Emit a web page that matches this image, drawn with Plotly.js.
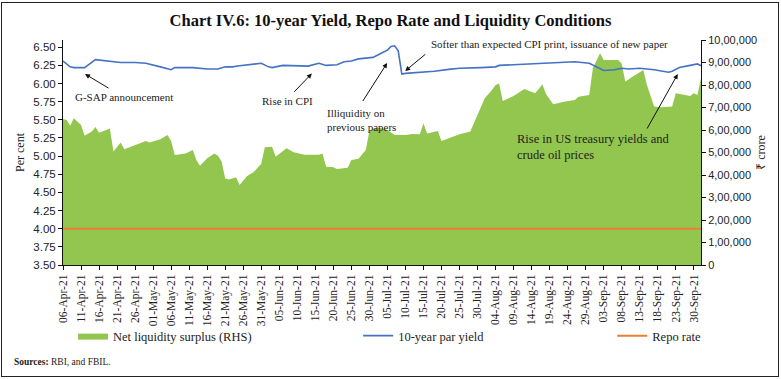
<!DOCTYPE html>
<html>
<head>
<meta charset="utf-8">
<script src="https://cdn.plot.ly/plotly-3.0.1.min.js"></script>
<style>
  html, body { margin: 0; padding: 0; background: #fff; }
  #wrap { position: absolute; left: 1px; top: 2px; width: 776px; height: 373px; border: 1.5px solid #222; }
</style>
</head>
<body>
<div id="wrap"></div>
<div id="chart" style="position:absolute;left:0;top:0;width:781px;height:379px;"></div>
<script>
// ---- Data ----
const yieldDates = ["2021-04-06","2021-04-08","2021-04-09","2021-04-12","2021-04-15","2021-04-17","2021-04-20","2021-04-22","2021-04-26","2021-04-29",
  "2021-05-03","2021-05-04","2021-05-05","2021-05-06","2021-05-07","2021-05-12","2021-05-16","2021-05-19","2021-05-21","2021-05-23","2021-05-25","2021-05-29","2021-05-31",
  "2021-06-02","2021-06-03","2021-06-06","2021-06-09","2021-06-13","2021-06-16","2021-06-18","2021-06-21","2021-06-23","2021-06-25","2021-06-27","2021-06-29",
  "2021-07-01","2021-07-03","2021-07-04","2021-07-05","2021-07-06","2021-07-07","2021-07-08","2021-07-09","2021-07-10","2021-07-14","2021-07-18","2021-07-22","2021-07-25","2021-07-31",
  "2021-08-04","2021-08-05","2021-08-09","2021-08-14","2021-08-17","2021-08-22","2021-08-26","2021-08-30",
  "2021-09-01","2021-09-03","2021-09-06","2021-09-08","2021-09-10","2021-09-13","2021-09-17","2021-09-21","2021-09-22","2021-09-24","2021-09-27","2021-09-29","2021-09-30"];
const yieldValues = [6.31,6.23,6.22,6.22,6.33,6.32,6.31,6.29,6.29,6.28,
  6.23,6.22,6.21,6.19,6.22,6.22,6.20,6.20,6.23,6.23,6.245,6.27,6.28,
  6.23,6.22,6.25,6.25,6.24,6.28,6.25,6.26,6.30,6.31,6.34,6.35,
  6.36,6.41,6.43,6.46,6.51,6.52,6.45,6.13,6.14,6.15,6.17,6.195,6.21,6.22,
  6.23,6.25,6.26,6.265,6.28,6.29,6.30,6.28,
  6.23,6.18,6.19,6.21,6.20,6.21,6.19,6.155,6.17,6.22,6.25,6.27,6.245];

const repoDates = ["2021-04-06","2021-09-30"];
const repoValues = [4.00, 4.00];

const liqDates = ["2021-04-06","2021-04-07","2021-04-08","2021-04-09","2021-04-11","2021-04-12","2021-04-14","2021-04-15","2021-04-16","2021-04-19",
  "2021-04-20","2021-04-21","2021-04-22","2021-04-23","2021-04-25","2021-04-27","2021-04-28","2021-04-29","2021-04-30",
  "2021-05-03","2021-05-05","2021-05-06","2021-05-07","2021-05-10","2021-05-12","2021-05-13","2021-05-14","2021-05-16","2021-05-18","2021-05-19",
  "2021-05-20","2021-05-21","2021-05-22","2021-05-24","2021-05-25","2021-05-27","2021-05-29","2021-05-31",
  "2021-06-01","2021-06-03","2021-06-04","2021-06-07","2021-06-09","2021-06-12","2021-06-16","2021-06-17","2021-06-18","2021-06-20","2021-06-21",
  "2021-06-24","2021-06-25","2021-06-27","2021-06-29","2021-06-30",
  "2021-07-01","2021-07-03","2021-07-05","2021-07-07","2021-07-10","2021-07-12","2021-07-14","2021-07-15","2021-07-16","2021-07-19","2021-07-20",
  "2021-07-23","2021-07-25","2021-07-28","2021-07-30",
  "2021-08-01","2021-08-03","2021-08-04","2021-08-05","2021-08-06","2021-08-09","2021-08-11","2021-08-12","2021-08-15","2021-08-17","2021-08-18",
  "2021-08-20","2021-08-23","2021-08-26","2021-08-27","2021-08-30","2021-08-31",
  "2021-09-02","2021-09-03","2021-09-07","2021-09-08","2021-09-09","2021-09-11","2021-09-14","2021-09-15","2021-09-17","2021-09-19",
  "2021-09-22","2021-09-23","2021-09-25","2021-09-27","2021-09-28","2021-09-29","2021-09-30"];
const liqValues = [649000,644000,619000,652000,622000,575000,593000,613000,588000,607000,
  504000,526000,544000,514000,526000,541000,544000,551000,544000,
  559000,578000,551000,489000,496000,511000,467000,441000,474000,496000,486000,
  460000,385000,380000,390000,356000,395000,415000,450000,
  523000,526000,481000,519000,501000,490000,490000,496000,437000,435000,427000,
  432000,467000,472000,511000,595000,
  607000,610000,600000,578000,578000,582000,581000,630000,585000,596000,551000,
  570000,581000,593000,667000,
  741000,778000,800000,807000,729000,751000,770000,782000,763000,802000,760000,
  714000,726000,733000,748000,756000,874000,
  941000,911000,911000,896000,815000,837000,867000,800000,704000,701000,
  704000,763000,756000,751000,763000,756000,830000];

const tickDates = ["2021-04-06","2021-04-11","2021-04-16","2021-04-21","2021-04-26","2021-05-01","2021-05-06","2021-05-11","2021-05-16","2021-05-21","2021-05-26","2021-05-31",
  "2021-06-05","2021-06-10","2021-06-15","2021-06-20","2021-06-25","2021-06-30","2021-07-05","2021-07-10","2021-07-15","2021-07-20","2021-07-25","2021-07-30",
  "2021-08-04","2021-08-09","2021-08-14","2021-08-19","2021-08-24","2021-08-29","2021-09-03","2021-09-08","2021-09-13","2021-09-18","2021-09-23","2021-09-28"];
const tickLabels = ["06-Apr-21","11-Apr-21","16-Apr-21","21-Apr-21","26-Apr-21","01-May-21","06-May-21","11-May-21","16-May-21","21-May-21","26-May-21","31-May-21",
  "05-Jun-21","10-Jun-21","15-Jun-21","20-Jun-21","25-Jun-21","30-Jun-21","05-Jul-21","10-Jul-21","15-Jul-21","20-Jul-21","25-Jul-21","30-Jul-21",
  "04-Aug-21","09-Aug-21","14-Aug-21","19-Aug-21","24-Aug-21","29-Aug-21","03-Sep-21","08-Sep-21","13-Sep-21","18-Sep-21","23-Sep-21","30-Sep-21"];

const leftTicks = [3.50,3.75,4.00,4.25,4.50,4.75,5.00,5.25,5.50,5.75,6.00,6.25,6.50];
const rightTickVals = [0,100000,200000,300000,400000,500000,600000,700000,800000,900000,1000000];
const rightTickText = ["0","1,00,000","2,00,000","3,00,000","4,00,000","5,00,000","6,00,000","7,00,000","8,00,000","9,00,000","10,00,000"];

// ---- Styling ----
const SERIF = "Liberation Serif, serif";
const SANS = "Liberation Sans, Arial, sans-serif";
const GREEN = "#92c64f", BLUE = "#4472c4", ORANGE = "#ed7d31";

const traces = [
  { x: liqDates, y: liqValues, type: "scatter", mode: "lines", name: "Net liquidity surplus (RHS)",
    fill: "tozeroy", fillcolor: GREEN, line: { color: GREEN, width: 0 }, yaxis: "y", legend: "legend", hoverinfo: "skip" },
  { x: repoDates, y: repoValues, type: "scatter", mode: "lines", name: "Repo rate",
    line: { color: ORANGE, width: 2 }, yaxis: "y2", legend: "legend3" },
  { x: yieldDates, y: yieldValues, type: "scatter", mode: "lines", name: "10-year par yield",
    line: { color: BLUE, width: 1.6 }, yaxis: "y2", legend: "legend2" }
];

const L = 63, R = 700.7, T = 40, B = 265;
const px = v => (v - L) / (R - L);
const py = v => (B - v) / (B - T);

const arrow = (hx, hy, tx, ty) => ({
  xref: "paper", yref: "paper", x: px(hx), y: py(hy), ax: tx - hx, ay: ty - hy,
  showarrow: true, arrowhead: 2, arrowsize: 1, arrowwidth: 1, arrowcolor: "#111", text: ""
});
const label = (text, x, y, anchor, size) => ({
  xref: "paper", yref: "paper", x: px(x), y: py(y), xanchor: anchor, yanchor: "middle",
  showarrow: false, text: text, align: "left", font: { family: SERIF, size: size || 11, color: "#222" }
});

const layout = {
  width: 781, height: 379,
  margin: { l: L, r: 781 - R, t: T, b: 379 - B, pad: 0 },
  paper_bgcolor: "rgba(0,0,0,0)", plot_bgcolor: "rgba(0,0,0,0)",
  title: { text: "<b>Chart IV.6: 10-year Yield, Repo Rate and Liquidity Conditions</b>",
    x: 0.5, xanchor: "center", y: 1 - 20/379, yanchor: "middle", font: { family: SERIF, size: 16.5, color: "#111" } },
  showlegend: true,
  xaxis: {
    type: "date", range: ["2021-04-06", "2021-09-30"], tickvals: tickDates, ticktext: tickLabels,
    tickangle: -90, ticks: "outside", ticklen: 4, tickcolor: "#111", showline: true, linecolor: "#111", linewidth: 1,
    showgrid: false, zeroline: false, tickfont: { family: SERIF, size: 11.5, color: "#222" }
  },
  yaxis: {
    side: "right", range: [0, 1000000], tickvals: rightTickVals, ticktext: rightTickText,
    ticks: "outside", ticklen: 4, tickcolor: "#111", showline: true, linecolor: "#111", linewidth: 1,
    showgrid: false, zeroline: false, tickfont: { family: SANS, size: 11, color: "#222" },
    title: { text: "₹ crore", font: { family: SERIF, size: 12, color: "#222" }, standoff: 0 }
  },
  yaxis2: {
    overlaying: "y", side: "left", range: [3.5, 6.6], tickvals: leftTicks, tickformat: ".2f",
    ticks: "outside", ticklen: 4, tickcolor: "#111", showline: true, linecolor: "#111", linewidth: 1,
    showgrid: false, zeroline: false, tickfont: { family: SANS, size: 11.5, color: "#222" },
    title: { text: "Per cent", font: { family: SERIF, size: 12, color: "#222" }, standoff: 6 }
  },
  legend: { x: px(73), y: py(336), xanchor: "left", yanchor: "middle", orientation: "h",
    font: { family: SERIF, size: 12.5, color: "#222" }, bgcolor: "rgba(0,0,0,0)" },
  legend2: { x: px(358), y: py(336), xanchor: "left", yanchor: "middle", orientation: "h",
    font: { family: SERIF, size: 12.5, color: "#222" }, bgcolor: "rgba(0,0,0,0)" },
  legend3: { x: px(612), y: py(336), xanchor: "left", yanchor: "middle", orientation: "h",
    font: { family: SERIF, size: 12.5, color: "#222" }, bgcolor: "rgba(0,0,0,0)" },
  annotations: [
    arrow(85, 74, 110, 89),
    label("G-SAP announcement", 73, 97, "left", 11),
    arrow(311.7, 73.5, 292.7, 93.3),
    label("Rise in CPI", 260, 100.7, "left", 11),
    arrow(387, 63, 361.7, 102.5),
    label("Illiquidity on<br>previous papers", 325, 120, "left", 11),
    arrow(405, 71, 426.7, 53),
    label("Softer than expected CPI print, issuance of new paper", 429, 44.3, "left", 11),
    arrow(677.5, 74, 646, 130),
    label("Rise in US treasury yields and<br>crude oil prices", 515, 147.3, "left", 12.5),
    { xref: "paper", yref: "paper", x: px(12), y: py(362), xanchor: "left", yanchor: "middle", showarrow: false,
      text: "<b>Sources:</b> RBI, and FBIL.", font: { family: SERIF, size: 9.5, color: "#222" } }
  ]
};

Plotly.newPlot("chart", traces, layout, { displayModeBar: false, staticPlot: true });
</script>
</body>
</html>
